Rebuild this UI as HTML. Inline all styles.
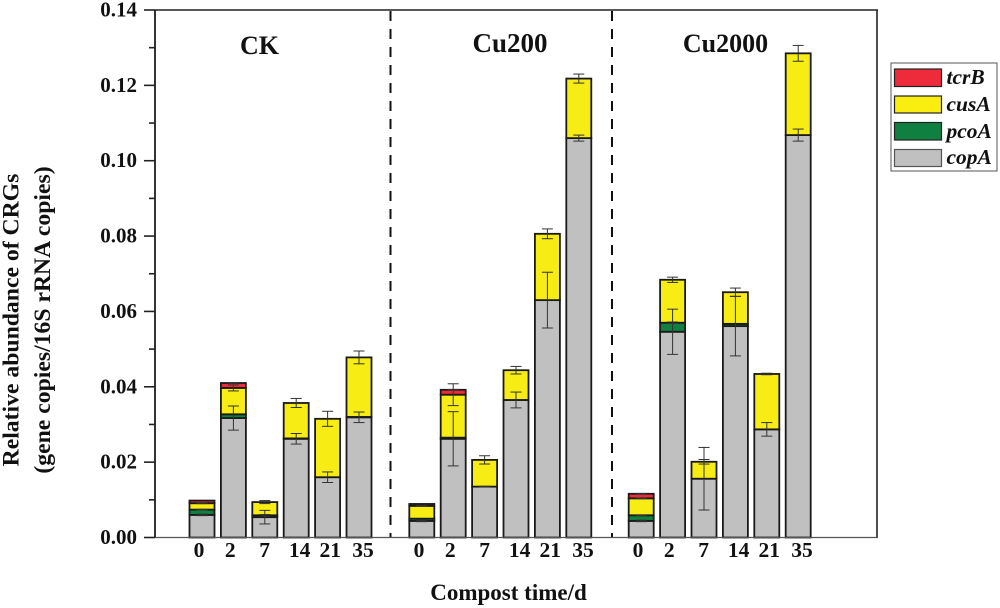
<!DOCTYPE html>
<html lang="en">
<head>
<meta charset="utf-8">
<title>Relative abundance of CRGs</title>
<style>
html,body{margin:0;padding:0;background:#fff;}
svg{display:block;font-family:"Liberation Serif",serif;font-weight:bold;fill:#111;}
</style>
</head>
<body>
<svg id="chart" xmlns="http://www.w3.org/2000/svg" width="1000" height="608" viewBox="0 0 1000 608">
  <rect x="0" y="0" width="1000" height="608" fill="#fff"/>
  <g id="bars"></g>
  <g id="errors"></g>
  <line x1="390.5" y1="11" x2="390.5" y2="537" stroke="#111" stroke-width="2" stroke-dasharray="10 8"/>
  <line x1="612" y1="11" x2="612" y2="537" stroke="#111" stroke-width="2" stroke-dasharray="10 8"/>
  <g id="axes">
    <line x1="155" y1="10" x2="155" y2="538" stroke="#333" stroke-width="2"/>
    <line x1="155" y1="10" x2="878" y2="10" stroke="#222" stroke-width="1.6"/>
    <line x1="877" y1="10" x2="877" y2="538" stroke="#222" stroke-width="1.6"/>
    <line x1="155" y1="537.5" x2="878" y2="537.5" stroke="#555" stroke-width="1.2"/>
  </g>
  <g id="y-ticks"></g>
  <g id="x-ticks"></g>
  <text x="259.5" y="54" font-size="26" text-anchor="middle">CK</text>
  <text x="510" y="52" font-size="27" text-anchor="middle">Cu200</text>
  <text x="725.5" y="52" font-size="26" text-anchor="middle">Cu2000</text>
  <text x="508.5" y="600" font-size="23" text-anchor="middle">Compost time/d</text>
  <text transform="translate(18.5,320) rotate(-90)" font-size="23.7" text-anchor="middle">Relative abundance of CRGs</text>
  <text transform="translate(50,320) rotate(-90)" font-size="23.7" text-anchor="middle">(gene copies/16S rRNA copies)</text>
  <g id="legend">
    <rect x="891" y="63" width="106" height="108" fill="#fff" stroke="#555" stroke-width="1"/>
    <g>
      <rect x="894.5" y="69" width="47" height="17.5" fill="#ee2b3b" stroke="#222" stroke-width="1.2"/>
      <text x="946.5" y="84" font-size="21.5" font-style="italic">tcrB</text>
    </g>
    <g>
      <rect x="894.5" y="96" width="47" height="17" fill="#f9ee10" stroke="#222" stroke-width="1.2"/>
      <text x="946.5" y="111" font-size="21.5" font-style="italic">cusA</text>
    </g>
    <g>
      <rect x="894.5" y="122.5" width="47" height="17.5" fill="#0f8040" stroke="#222" stroke-width="1.2"/>
      <text x="946.5" y="138" font-size="21.5" font-style="italic">pcoA</text>
    </g>
    <g>
      <rect x="894.5" y="149.5" width="47" height="17" fill="#c0c0c0" stroke="#555" stroke-width="1.2"/>
      <text x="946.5" y="164" font-size="21.5" font-style="italic">copA</text>
    </g>
  </g>
</svg>
<script>
// Data: CK (first six), Cu200 (next six), Cu2000 (last six)
const timeLabels = ["0", "2", "7", "14", "21", "35"];
const groupNames = ["ck", "cu200", "cu2000"];
const yTickLabels = ["0.00", "0.02", "0.04", "0.06", "0.08", "0.10", "0.12", "0.14"];
const yTickValues = [0, 0.02, 0.04, 0.06, 0.08, 0.10, 0.12, 0.14];
const yMinorValues = [0.01, 0.03, 0.05, 0.07, 0.09, 0.11, 0.13];

const copA = [0.0060, 0.0317, 0.0054, 0.0262, 0.0160, 0.0319,
              0.0044, 0.0262, 0.0135, 0.0365, 0.0630, 0.1060,
              0.0044, 0.0546, 0.0156, 0.0561, 0.0287, 0.1068];
const pcoA = [0.0014, 0.0010, 0.0005, 0.0001, 0.0000, 0.0001,
              0.0006, 0.0003, 0.0000, 0.0000, 0.0000, 0.0000,
              0.0015, 0.0024, 0.0000, 0.0006, 0.0000, 0.0000];
const cusA = [0.0017, 0.0070, 0.0035, 0.0094, 0.0155, 0.0158,
              0.0034, 0.0114, 0.0071, 0.0079, 0.0176, 0.0158,
              0.0045, 0.0114, 0.0045, 0.0084, 0.0147, 0.0217];
const tcrB = [0.0007, 0.0013, 0.0000, 0.0000, 0.0000, 0.0000,
              0.0005, 0.0013, 0.0000, 0.0000, 0.0000, 0.0000,
              0.0012, 0.0000, 0.0000, 0.0000, 0.0000, 0.0000];

const copAErr = [0.0002, 0.0032, 0.0018, 0.0014, 0.0014, 0.0014,
                 0.0002, 0.0072, 0.0001, 0.0021, 0.0074, 0.0008,
                 0.0002, 0.0060, 0.0083, 0.0079, 0.0018, 0.0016];
const pcoAErr = [0.0001, 0.0000, 0.0002, 0.0000, 0.0000, 0.0000,
                 0.0000, 0.0000, 0.0000, 0.0000, 0.0000, 0.0000,
                 0.0001, 0.0002, 0.0000, 0.0000, 0.0000, 0.0000];
const cusAErr = [0.0001, 0.0008, 0.0004, 0.0012, 0.0020, 0.0017,
                 0.0001, 0.0029, 0.0011, 0.0010, 0.0013, 0.0012,
                 0.0001, 0.0007, 0.0006, 0.0011, 0.0002, 0.0021];
const tcrBErr = [0.0000, 0.0001, 0.0000, 0.0000, 0.0000, 0.0000,
                 0.0000, 0.0001, 0.0000, 0.0000, 0.0000, 0.0000,
                 0.0001, 0.0000, 0.0000, 0.0000, 0.0000, 0.0000];

const NS = "http://www.w3.org/2000/svg";

function yScale(v) { return 537.5 - v * (527.5 / 0.14); }
function xScale(i) {
  const group = Math.floor(i / 6);
  const offset = [202, 421.8, 641.2][group];
  return offset + (i % 6) * 31.4;
}
function xLabelScale(i) {
  const group = Math.floor(i / 6);
  const slot = i % 6;
  const offset = [199, 419, 638][group];
  const nudge = slot === 3 ? 2.2 : (slot === 1 ? -1.5 : 0);
  return offset + slot * 32.8 + nudge;
}

function make(tag, attrs, parent) {
  const el = document.createElementNS(NS, tag);
  Object.keys(attrs).forEach(function (k) { el.setAttribute(k, attrs[k]); });
  parent.appendChild(el);
  return el;
}

const barsLayer = document.getElementById("bars");
const errorsLayer = document.getElementById("errors");
const yTicksLayer = document.getElementById("y-ticks");
const xTicksLayer = document.getElementById("x-ticks");

const layers = [
  { name: "copa", values: copA, errs: copAErr, fill: "#c0c0c0" },
  { name: "pcoa", values: pcoA, errs: pcoAErr, fill: "#0f8040" },
  { name: "cusa", values: cusA, errs: cusAErr, fill: "#f7ec13" },
  { name: "tcrb", values: tcrB, errs: tcrBErr, fill: "#ee2b3b" }
];

copA.forEach(function (_, i) {
  let base = 0;
  const label = groupNames[Math.floor(i / 6)] + "-day-" + timeLabels[i % 6];
  const cx = xScale(i);
  layers.forEach(function (layer) {
    const v = layer.values[i];
    const top = base + v;
    if (v > 0) {
      const rect = make("rect", {
        x: cx - 12.5,
        y: yScale(top),
        width: 25,
        height: yScale(base) - yScale(top),
        fill: layer.fill,
        stroke: "#1a1a1a",
        "stroke-width": 1.8
      }, barsLayer);
      
      
    }
    const err = layer.errs[i];
    if (v > 0 && err > 0) {
      const g = make("g", { stroke: "#333", "stroke-width": 1, fill: "none" }, errorsLayer);
      
      
      make("line", { x1: cx, x2: cx, y1: yScale(top + err), y2: yScale(top - err) }, g);
      make("line", { x1: cx - 5.5, x2: cx + 5.5, y1: yScale(top + err), y2: yScale(top + err) }, g);
      make("line", { x1: cx - 5.5, x2: cx + 5.5, y1: yScale(top - err), y2: yScale(top - err) }, g);
    }
    base = top;
  });

  const tick = make("text", {
    x: xLabelScale(i),
    y: 557,
    "font-size": 21.5,
    "text-anchor": "middle"
  }, xTicksLayer);
  tick.textContent = timeLabels[i % 6];
  
  
});

yTickValues.forEach(function (v, i) {
  const y = yScale(v);
  const line = make("line", { x1: 144, x2: 155, y1: y, y2: y, stroke: "#222", "stroke-width": 1.6 }, yTicksLayer);
  
  
  const text = make("text", { x: 137, y: y + 6.5, "font-size": 21, "text-anchor": "end" }, yTicksLayer);
  text.textContent = yTickLabels[i];
  
  
});

yMinorValues.forEach(function (v) {
  const y = yScale(v);
  const line = make("line", { x1: 149, x2: 155, y1: y, y2: y, stroke: "#222", "stroke-width": 1.6 }, yTicksLayer);
  
  
});
</script>
</body>
</html>
